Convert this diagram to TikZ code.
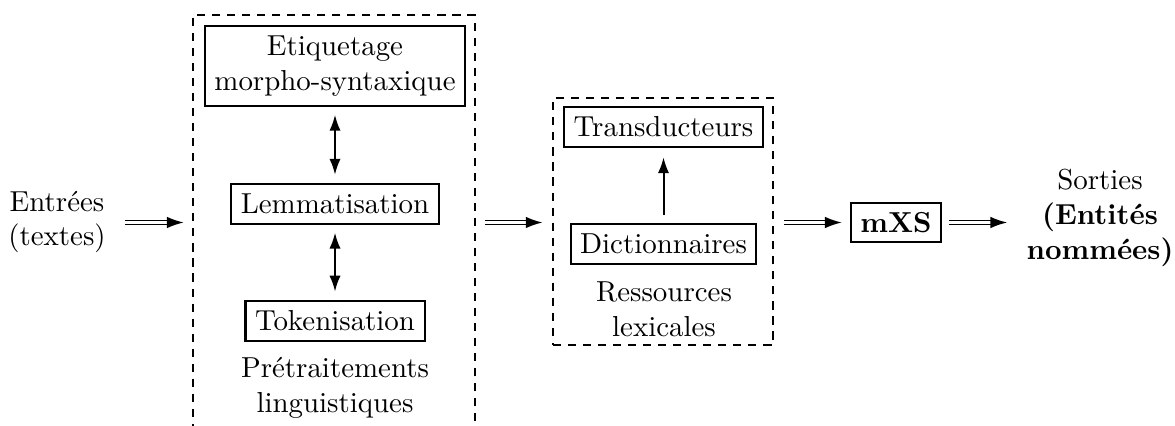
\documentclass[tikz,border=0pt]{standalone}
\usetikzlibrary{arrows.meta,fit}
\begin{document}
\begin{tikzpicture}[x=0.346pt,y=-0.346pt,
  box/.style={draw, line width=0.7pt, inner sep=3.3pt, align=center},
  lbl/.style={align=center, inner sep=0pt},
  dbox/.style={draw, line width=0.85pt, dash pattern=on 2.8pt off 2.4pt, inner sep=0pt},
  dbl/.style={double, double distance=0.9pt, line width=0.5pt, -{Latex[length=5.8pt,width=4pt]}},
  sgl/.style={line width=0.7pt, -{Latex[length=5.5pt,width=3.9pt]}},
  bisgl/.style={line width=0.7pt, {Latex[length=5.5pt,width=3.9pt]}-{Latex[length=5.5pt,width=3.9pt]}}]
\useasboundingbox (0,0) rectangle (1175,426);
\clip (0,0) rectangle (1175,426);

% nodes
\node[lbl] (in) at (57,222) {Entr\'ees\\(textes)};
\node[dbox, fit={(193,15) (475,470)}] (pre) {};
\node[box] (etiq) at (335,66) {Etiquetage\\morpho-syntaxique};
\node[box] (lemma) at (335,204) {Lemmatisation};
\node[box] (tok) at (335,321) {Tokenisation};
\node[lbl] (prelbl) at (335,388) {Pr\'etraitements\\linguistiques};

\node[dbox, fit={(553,98) (773,345)}] (res) {};
\node[box] (trans) at (663.5,127) {Transducteurs};
\node[box] (dict) at (663.5,244) {Dictionnaires};
\node[lbl] (reslbl) at (664,309) {Ressources\\lexicales};

\node[box] (mxs) at (896,222.5) {\textbf{mXS}};
\node[lbl] (out) at (1100,218) {Sorties\\\textbf{(Entit\'es}\\\textbf{nomm\'ees)}};

% connectors
\draw[bisgl, shorten <=2.8pt, shorten >=3pt] (etiq) -- (lemma);
\draw[bisgl, shorten <=2.8pt, shorten >=3pt] (lemma) -- (tok);
\draw[sgl, shorten <=3pt, shorten >=3.3pt] (dict) -- (trans);

\draw[dbl, shorten <=6.6pt, shorten >=2.8pt] (in.east |- mxs) -- (pre.west |- mxs);
\draw[dbl, shorten <=3.2pt, shorten >=3.2pt] (pre.east |- mxs) -- (res.west |- mxs);
\draw[dbl, shorten <=3.5pt, shorten >=2.8pt] (res.east |- mxs) -- (mxs.west);
\draw[dbl, shorten <=2.5pt, shorten >=6.5pt] (mxs.east) -- (out.west |- mxs);
\end{tikzpicture}
\end{document}
